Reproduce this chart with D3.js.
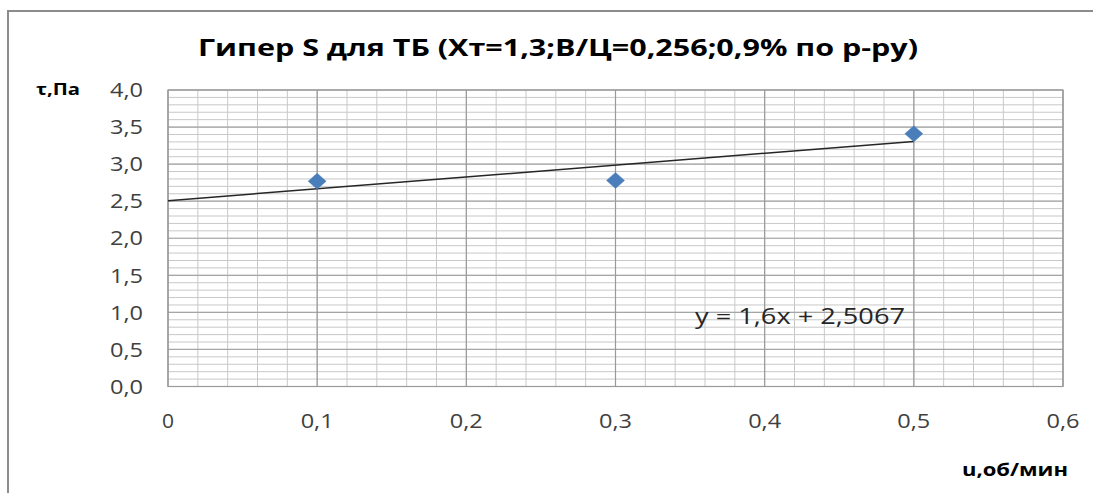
<!DOCTYPE html>
<html>
<head>
<meta charset="utf-8">
<script src="https://cdn.jsdelivr.net/npm/d3@7"></script>
<style>
  html, body { margin: 0; padding: 0; background: #fff; }
  svg { display: block; }
  text { font-family: "Open Sans", "Liberation Sans", sans-serif; }
</style>
</head>
<body>
<svg id="chart" width="1093" height="493"></svg>
<script>
// Measured points: rotation speed u vs shear stress τ
const speeds = [0.1, 0.3, 0.5];
const stresses = [2.77, 2.78, 3.41];

// Linear trend line y = 1.6x + 2.5067
const trendSlope = 1.6;
const trendIntercept = 2.5067;
const trendRange = [0, 0.5];

const xTicks = [0, 0.1, 0.2, 0.3, 0.4, 0.5, 0.6];
const yTicks = [0, 0.5, 1.0, 1.5, 2.0, 2.5, 3.0, 3.5, 4.0];

const titleText = "Гипер S для ТБ (Хт=1,3;В/Ц=0,256;0,9% по р-ру)";
const yAxisTitle = "τ,Па";
const xAxisTitle = "u,об/мин";
const equationText = "y = 1,6x + 2,5067";

const svg = d3.select("#chart");
const plot = { left: 168, right: 1063, top: 90, bottom: 386.5 };

const x = d3.scaleLinear().domain([0, 0.6]).range([plot.left, plot.right]);
const y = d3.scaleLinear().domain([0, 4]).range([plot.bottom, plot.top]);
const fmt = v => d3.format(".1f")(v).replace(".", ",");

// Chart frame
svg.append("rect")
  .attr("x", 8).attr("y", 11)
  .attr("width", 1200).attr("height", 600)
  .attr("fill", "none").attr("stroke", "#8c8c8c").attr("stroke-width", 2);

// Minor gridlines
const g = svg.append("g");
const xMinor = d3.range(0, 31).map(i => i * 0.02);
const yMinor = d3.range(0, 41).map(i => i * 0.1);
g.selectAll("line.ym").data(yMinor).join("line")
  .attr("x1", plot.left).attr("x2", plot.right)
  .attr("y1", d => y(d)).attr("y2", d => y(d))
  .attr("stroke", "#c8c8c8").attr("stroke-width", 1);
g.selectAll("line.xm").data(xMinor).join("line")
  .attr("y1", plot.top).attr("y2", plot.bottom)
  .attr("x1", d => x(d)).attr("x2", d => x(d))
  .attr("stroke", "#c8c8c8").attr("stroke-width", 1);

// Major gridlines
g.selectAll("line.yM").data(yTicks).join("line")
  .attr("x1", plot.left).attr("x2", plot.right)
  .attr("y1", d => y(d)).attr("y2", d => y(d))
  .attr("stroke", "#a6a6a6").attr("stroke-width", 1.2);
g.selectAll("line.xM").data(xTicks).join("line")
  .attr("y1", plot.top).attr("y2", plot.bottom)
  .attr("x1", d => x(d)).attr("x2", d => x(d))
  .attr("stroke", "#9a9a9a").attr("stroke-width", 1.2);

// Plot area outline
svg.append("rect")
  .attr("x", plot.left).attr("y", plot.top)
  .attr("width", plot.right - plot.left).attr("height", plot.bottom - plot.top)
  .attr("fill", "none").attr("stroke", "#9a9a9a").attr("stroke-width", 1.2);

// Axis tick labels (Excel-style wide lettering)
svg.append("g").selectAll("text").data(yTicks).join("text")
  .attr("x", 143).attr("y", d => y(d))
  .attr("dy", "0.36em").attr("text-anchor", "end")
  .attr("font-size", 20).attr("fill", "#404040")
  .attr("textLength", 33).attr("lengthAdjust", "spacingAndGlyphs")
  .text(d => fmt(d));

svg.append("g").selectAll("text").data(xTicks).join("text")
  .attr("x", d => x(d)).attr("y", 421)
  .attr("dy", "0.36em").attr("text-anchor", "middle")
  .attr("font-size", 20).attr("fill", "#404040")
  .attr("textLength", d => d === 0 ? 12 : 33).attr("lengthAdjust", "spacingAndGlyphs")
  .text(d => d === 0 ? "0" : fmt(d));

// Trend line
const trend = trendRange.map(v => [v, trendSlope * v + trendIntercept]);
svg.append("path")
  .attr("d", d3.line().x(d => x(d[0])).y(d => y(d[1]))(trend))
  .attr("fill", "none").attr("stroke", "#262626").attr("stroke-width", 1.5);

// Data markers
const points = speeds.map((s, i) => [s, stresses[i]]);
svg.append("g").selectAll("path").data(points).join("path")
  .attr("transform", d => `translate(${x(d[0])},${y(d[1])})`)
  .attr("d", "M0,-8 L9,0 L0,8 L-9,0 Z")
  .attr("fill", "#4a7ebb").attr("stroke", "#4f81bd").attr("stroke-width", 0.5);

// Trend equation
svg.append("text")
  .attr("x", 695).attr("y", 324)
  .attr("font-size", 21).attr("fill", "#262626")
  .attr("textLength", 210).attr("lengthAdjust", "spacingAndGlyphs")
  .text(equationText);

// Title and axis titles
svg.append("text")
  .attr("x", 198).attr("y", 56)
  .attr("font-size", 24).attr("font-weight", "bold").attr("fill", "#000")
  .attr("textLength", 720).attr("lengthAdjust", "spacingAndGlyphs")
  .text(titleText);

svg.append("text")
  .attr("x", 36).attr("y", 95)
  .attr("font-size", 16).attr("font-weight", "bold").attr("fill", "#000")
  .attr("textLength", 44).attr("lengthAdjust", "spacingAndGlyphs")
  .text(yAxisTitle);

svg.append("text")
  .attr("x", 962).attr("y", 476)
  .attr("font-size", 17).attr("font-weight", "bold").attr("fill", "#000")
  .attr("textLength", 106).attr("lengthAdjust", "spacingAndGlyphs")
  .text(xAxisTitle);
</script>
</body>
</html>
